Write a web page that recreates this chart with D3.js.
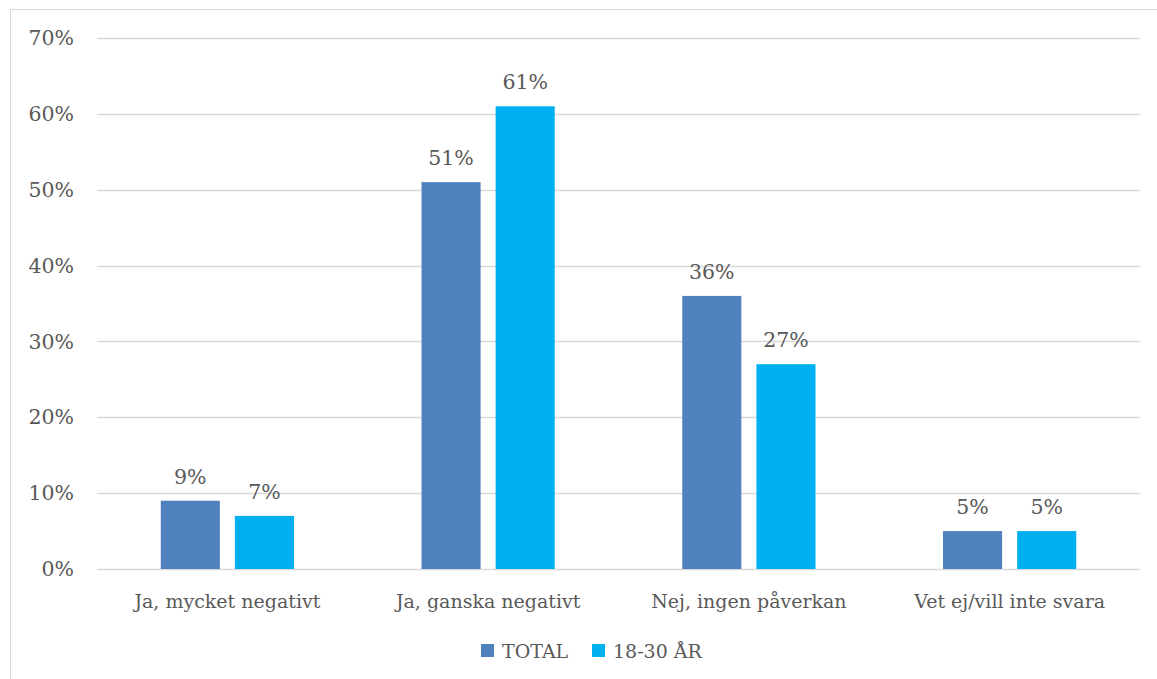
<!DOCTYPE html>
<html>
<head>
<meta charset="utf-8">
<script src="https://d3js.org/d3.v7.min.js"></script>
<style>
  body { margin: 0; background: #fff; }
  text { font-family: "DejaVu Serif", serif; fill: #595959; }
</style>
</head>
<body>
<script>
  // data
  var categories = ["Ja, mycket negativt", "Ja, ganska negativt", "Nej, ingen påverkan", "Vet ej/vill inte svara"];
  var seriesNames = ["TOTAL", "18-30 ÅR"];
  var total = [9, 51, 36, 5];
  var young = [7, 61, 27, 5];
  var yTicks = [0, 10, 20, 30, 40, 50, 60, 70];
  var colors = ["#4F81BD", "#00B0F0"];

  var W = 1157, H = 679;
  var svg = d3.select("body").append("svg")
    .attr("width", W)
    .attr("height", H);

  // chart border (runs off right and bottom)
  svg.append("rect")
    .attr("x", 10.5).attr("y", 9.5)
    .attr("width", W).attr("height", H)
    .attr("fill", "none")
    .attr("stroke", "#d9d9d9")
    .attr("stroke-width", 1);

  var plotLeft = 97, plotRight = 1140, plotTop = 38, plotBottom = 569;

  var y = d3.scaleLinear().domain([0, 70]).range([plotBottom, plotTop]);
  var x0 = d3.scaleBand().domain(categories).range([plotLeft, plotRight]).padding(0);
  var x1 = d3.scaleBand().domain(seriesNames).range([0, x0.bandwidth()])
    .paddingInner(0.203).paddingOuter(0.86);

  // gridlines
  svg.selectAll("line.grid")
    .data(yTicks)
    .enter()
    .append("line")
    .attr("class", "grid")
    .attr("x1", plotLeft).attr("x2", plotRight)
    .attr("y1", function(d){ return Math.round(y(d)) + 0.5; })
    .attr("y2", function(d){ return Math.round(y(d)) + 0.5; })
    .style("stroke", "#d9d9d9")
    .style("stroke-width", 1.5);

  // y labels
  svg.selectAll("text.ytick")
    .data(yTicks)
    .enter()
    .append("text")
    .attr("class", "ytick")
    .attr("x", 74)
    .attr("y", function(d){ return y(d); })
    .attr("dy", "0.35em")
    .attr("text-anchor", "end")
    .style("font-size", "20.5px")
    .text(function(d){ return d + "%"; });

  // bars
  var rows = categories.map(function(c, i){
    return [{cat: c, s: seriesNames[0], v: total[i], k: 0},
            {cat: c, s: seriesNames[1], v: young[i], k: 1}];
  });
  var flat = [].concat.apply([], rows);

  svg.selectAll("rect.bar")
    .data(flat)
    .enter()
    .append("rect")
    .attr("class", "bar")
    .attr("x", function(d){ return x0(d.cat) + x1(d.s); })
    .attr("y", function(d){ return y(d.v); })
    .attr("width", x1.bandwidth())
    .attr("height", function(d){ return y(0) - y(d.v); })
    .style("fill", function(d){ return colors[d.k]; });

  // value labels
  svg.selectAll("text.val")
    .data(flat)
    .enter()
    .append("text")
    .attr("class", "val")
    .attr("x", function(d){ return x0(d.cat) + x1(d.s) + x1.bandwidth() / 2; })
    .attr("y", function(d){ return y(d.v) - 17; })
    .attr("text-anchor", "middle")
    .style("font-size", "20.5px")
    .text(function(d){ return d.v + "%"; });

  // category labels
  svg.selectAll("text.cat")
    .data(categories)
    .enter()
    .append("text")
    .attr("class", "cat")
    .attr("x", function(d){ return x0(d) + x0.bandwidth() / 2; })
    .attr("y", 608)
    .attr("text-anchor", "middle")
    .style("font-size", "19px")
    .text(function(d){ return d; });

  // legend
  var legendX = [481, 592];
  var lg = svg.selectAll("g.legend")
    .data(seriesNames)
    .enter()
    .append("g")
    .attr("class", "legend")
    .attr("transform", function(d, i){ return "translate(" + legendX[i] + ",644)"; });
  lg.append("rect")
    .attr("width", 13).attr("height", 13)
    .style("fill", function(d, i){ return colors[i]; });
  lg.append("text")
    .attr("x", 21).attr("y", 7)
    .attr("dy", "0.35em")
    .style("font-size", "19px")
    .text(function(d){ return d; });
</script>
</body>
</html>
